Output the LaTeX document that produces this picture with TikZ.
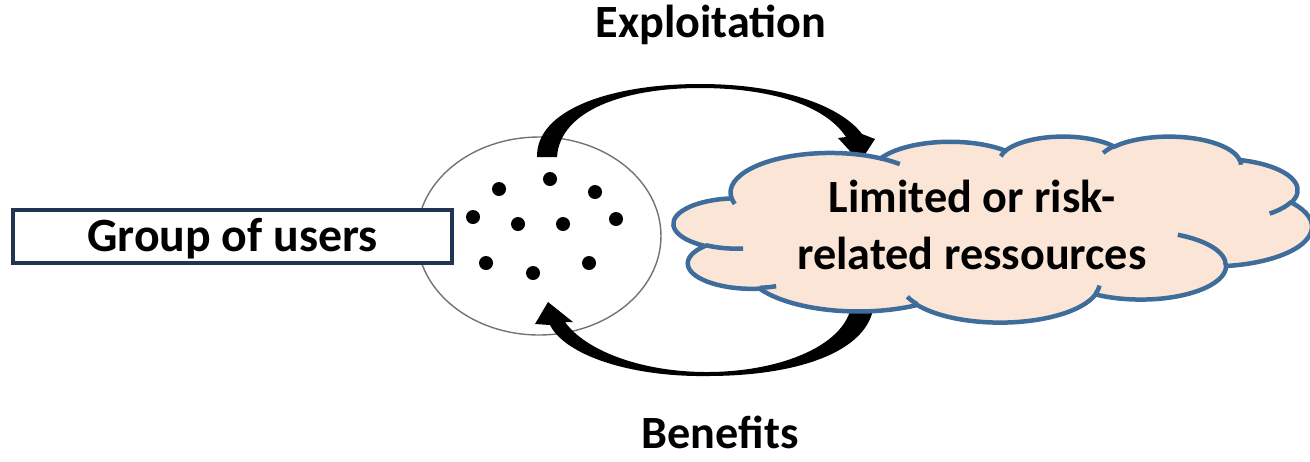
\documentclass[tikz,border=0pt]{standalone}
\usepackage{fontspec}
\setmainfont{Carlito}
\usetikzlibrary{shapes.geometric, positioning}
\definecolor{cloudblue}{HTML}{3E6C9B}
\definecolor{cloudfill}{HTML}{FBE5D6}
\definecolor{boxnavy}{HTML}{1F3553}
\newcommand{\lobe}[4]{arc[x radius=#1, y radius=#2, start angle={atan2(#1*sin(#3),#2*cos(#3))}, delta angle={mod(atan2(#1*sin(#3+#4),#2*cos(#3+#4))-atan2(#1*sin(#3),#2*cos(#3))+720,360)}]}

\begin{document}
\begin{tikzpicture}[
    x=0.02cm, y=-0.02cm,
    lbl/.style={font=\fontsize{26.3}{32.4}\selectfont\bfseries, inner sep=0pt},
    userbox/.style={draw=boxnavy, line width=0.066cm, fill=white, minimum width=8.78cm, minimum height=1.06cm, inner sep=0pt, text height=17.5pt, text depth=0pt, font=\fontsize{27.2}{30}\selectfont\bfseries},
    crowd/.style={draw=gray!90!black, line width=0.028cm, ellipse, minimum width=4.88cm, minimum height=3.96cm, inner sep=0pt},
    member/.style={circle, fill=black, inner sep=0pt, minimum size=0.28cm},
    flow/.style={fill=black},
    cloudline/.style={draw=cloudblue, line width=0.09cm},
]
\useasboundingbox (0,0) rectangle (1310,461);
\node[crowd] (group) at (539,236) {};
\foreach \px/\py [count=\i] in {550/179, 499/189, 595/192, 473/217, 518/224, 563/224, 616/219, 486/263, 533/273, 589/263}
    \node[member] (u\i) at (\px,\py) {};
\fill[flow] (537,157) .. controls (536,110) and (610,84) .. (700,84) .. controls (780,84) and (840,105) .. (862,134)
    -- (875,139) -- (860,162) -- (838,138) -- (846,137) .. controls (825,105) and (770,88) .. (700,88)
    .. controls (625,88) and (560,110) .. (557,157) -- cycle;
\fill[flow] (874,300) .. controls (874,348) and (805,376) .. (707,376) .. controls (630,377) and (565,355) .. (550,325)
    -- (535,324) -- (548,302) -- (573,322) -- (565,322) .. controls (585,350) and (640,372) .. (707,372)
    .. controls (780,372) and (850,345) .. (852,300) -- cycle;
\begin{scope}[shift={(13.48cm,-2.72cm)}, x=1cm, y=1cm, xscale=0.29537, yscale=-0.086111]
\filldraw[cloudline, fill=cloudfill] (3.9,14.37) \lobe{6.753}{9.19}{-190.48748}{123.78053}
    \lobe{5.333}{7.267}{-144.10238}{89.94523} \lobe{4.365}{5.945}{-145.80792}{99.72302}
    \lobe{4.857}{6.595}{-130.98607}{117.24173} \lobe{5.333}{7.273}{-78.70888}{109.02692}
    \lobe{6.775}{9.22}{-46.26725}{130.269} \lobe{5.785}{7.867}{0.62502}{114.03333}
    \lobe{6.752}{9.215}{22.4516}{115.17255} \lobe{7.72}{10.543}{66.24263}{75.71102}
    \lobe{4.36}{5.918}{-274.94208}{146.73557} \lobe{4.345}{5.945}{-246.8285}{152.51885} -- cycle;
\draw[cloudline] (4.693,26.177) \lobe{4.345}{5.945}{86.742}{26.4295}
    (6.928,34.899) \lobe{4.36}{5.918}{73.61047}{11.44747}
    (16.478,39.09) \lobe{6.752}{9.215}{137.62415}{14.0811}
    (28.827,34.751) \lobe{6.752}{9.215}{6.45327}{15.99835}
    (34.129,22.954) \lobe{5.785}{7.867}{-70.29235}{70.91737}
    (41.798,15.354) \lobe{5.333}{7.273}{30.31803}{27.7515}
    (38.324,5.426) \lobe{4.857}{6.595}{-13.74433}{14.8589}
    (29.078,3.952) \lobe{4.857}{6.595}{-149.18145}{18.19537}
    (22.141,4.72) \lobe{4.365}{5.945}{-163.49427}{17.68635}
    (14.0,5.192) \lobe{6.753}{9.19}{-66.70695}{12.31935}
    (4.127,15.789) \lobe{6.753}{9.19}{157.65435}{11.85817};
\end{scope}
\node[lbl, align=center] (res) at (972,225) {Limited or risk-\\related ressources};
\node[userbox] (users) at (232.5,236.5) {Group of users};
\node[lbl, anchor=base] (expl) at (711,37) {Exploitation};
\node[lbl, anchor=base] (bene) at (720,448) {Benefits};
\end{tikzpicture}
\end{document}
